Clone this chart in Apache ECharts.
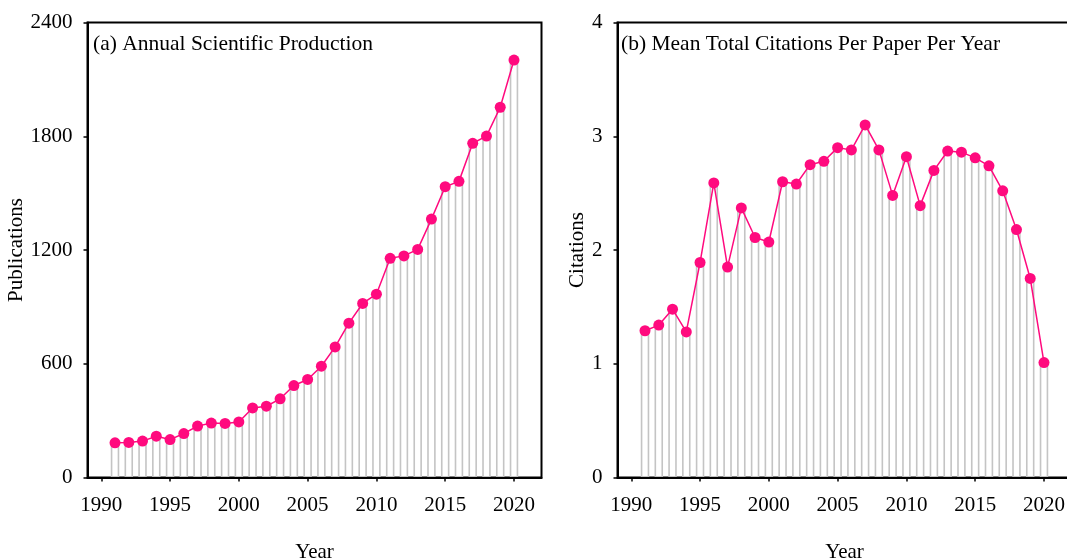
<!DOCTYPE html>
<html>
<head>
<meta charset="utf-8">
<script src="https://cdn.jsdelivr.net/npm/echarts@6/dist/echarts.min.js"></script>
<style>
html,body{margin:0;padding:0;background:#fff;}
#chart{width:1067px;height:560px;}
</style>
</head>
<body>
<div id="chart"></div>
<script>
const years = [1991,1992,1993,1994,1995,1996,1997,1998,1999,2000,2001,2002,2003,2004,2005,2006,2007,2008,2009,2010,2011,2012,2013,2014,2015,2016,2017,2018,2019,2020];
const publications = [183,185,192,218,200,232,271,287,285,293,367,376,415,485,517,587,689,814,918,967,1156,1169,1203,1363,1534,1562,1763,1801,1953,2202];
const citations = [1.29,1.34,1.48,1.28,1.89,2.59,1.85,2.37,2.11,2.07,2.60,2.58,2.75,2.78,2.90,2.88,3.10,2.88,2.48,2.82,2.39,2.70,2.87,2.86,2.81,2.74,2.52,2.18,1.75,1.01];
const xTicks = [1990,1995,2000,2005,2010,2015,2020];
const yTicksA = [0,600,1200,1800,2400];
const yTicksB = [0,1,2,3,4];
const titleA = '(a) Annual Scientific Production';
const titleB = '(b) Mean Total Citations Per Paper Per Year';

const FONT = 'Liberation Serif';
const PINK = '#ff0a7e';
const GRAY = '#c4c4c4';

function xAxis(gi){
  return {
    type:'value', gridIndex:gi, min:1989, max:2022, z:5,
    name:'Year', nameLocation:'middle', nameGap:64,
    nameTextStyle:{fontFamily:FONT,fontSize:21,color:'#000'},
    axisLine:{show:true,lineStyle:{color:'#000',width:2}},
    axisTick:{show:true,length:4,inside:false,lineStyle:{color:'#000',width:1.5},customValues:xTicks},
    axisLabel:{fontFamily:FONT,fontSize:21,color:'#000',margin:17,customValues:xTicks,formatter:v=>String(v)},
    splitLine:{show:false}
  };
}
function yAxis(gi,name,ticks,gap){
  return {
    type:'value', gridIndex:gi, min:ticks[0], max:ticks[ticks.length-1], interval:ticks[1]-ticks[0], z:5,
    name:name, nameLocation:'middle', nameGap:gap,
    nameTextStyle:{fontFamily:FONT,fontSize:21,color:'#000'},
    axisLine:{show:true,lineStyle:{color:'#000',width:2}},
    axisTick:{show:true,length:4,inside:false,lineStyle:{color:'#000',width:1.5}},
    axisLabel:{fontFamily:FONT,fontSize:21,color:'#000',margin:15,formatter:v=>String(v)},
    splitLine:{show:false}
  };
}
function bars(gi,vals){
  return {
    type:'bar', xAxisIndex:gi, yAxisIndex:gi, barWidth:8.5, z:1,
    data: years.map((y,i)=>[y,vals[i]]),
    itemStyle:{color:'#fff',borderColor:GRAY,borderWidth:1.6},
    silent:true, animation:false
  };
}
function line(gi,vals){
  return {
    type:'line', xAxisIndex:gi, yAxisIndex:gi, z:3,
    data: years.map((y,i)=>[y,vals[i]]),
    symbol:'circle', symbolSize:11,
    lineStyle:{color:PINK,width:1.5},
    itemStyle:{color:PINK},
    animation:false
  };
}

const chart = echarts.init(document.getElementById('chart'),null,{renderer:'canvas'});
chart.setOption({
  backgroundColor:'#fff',
  animation:false,
  title:[
    {text:titleA,left:88,top:28,textStyle:{fontFamily:FONT,fontSize:21.5,fontWeight:'normal',color:'#000'}},
    {text:titleB,left:616,top:28,textStyle:{fontFamily:FONT,fontSize:21.5,fontWeight:'normal',color:'#000'}}
  ],
  grid:[
    {left:87.5,top:22.5,width:454,height:455,show:true,borderColor:'#000',borderWidth:2,backgroundColor:'transparent',containLabel:false,outerBoundsMode:'none'},
    {left:617.5,top:22.5,width:454,height:455,show:true,borderColor:'#000',borderWidth:2,backgroundColor:'transparent',containLabel:false,outerBoundsMode:'none'}
  ],
  xAxis:[xAxis(0),xAxis(1)],
  yAxis:[yAxis(0,'Publications',yTicksA,53),yAxis(1,'Citations',yTicksB,26)],
  series:[bars(0,publications),line(0,publications),bars(1,citations),line(1,citations)]
});
</script>
</body>
</html>
